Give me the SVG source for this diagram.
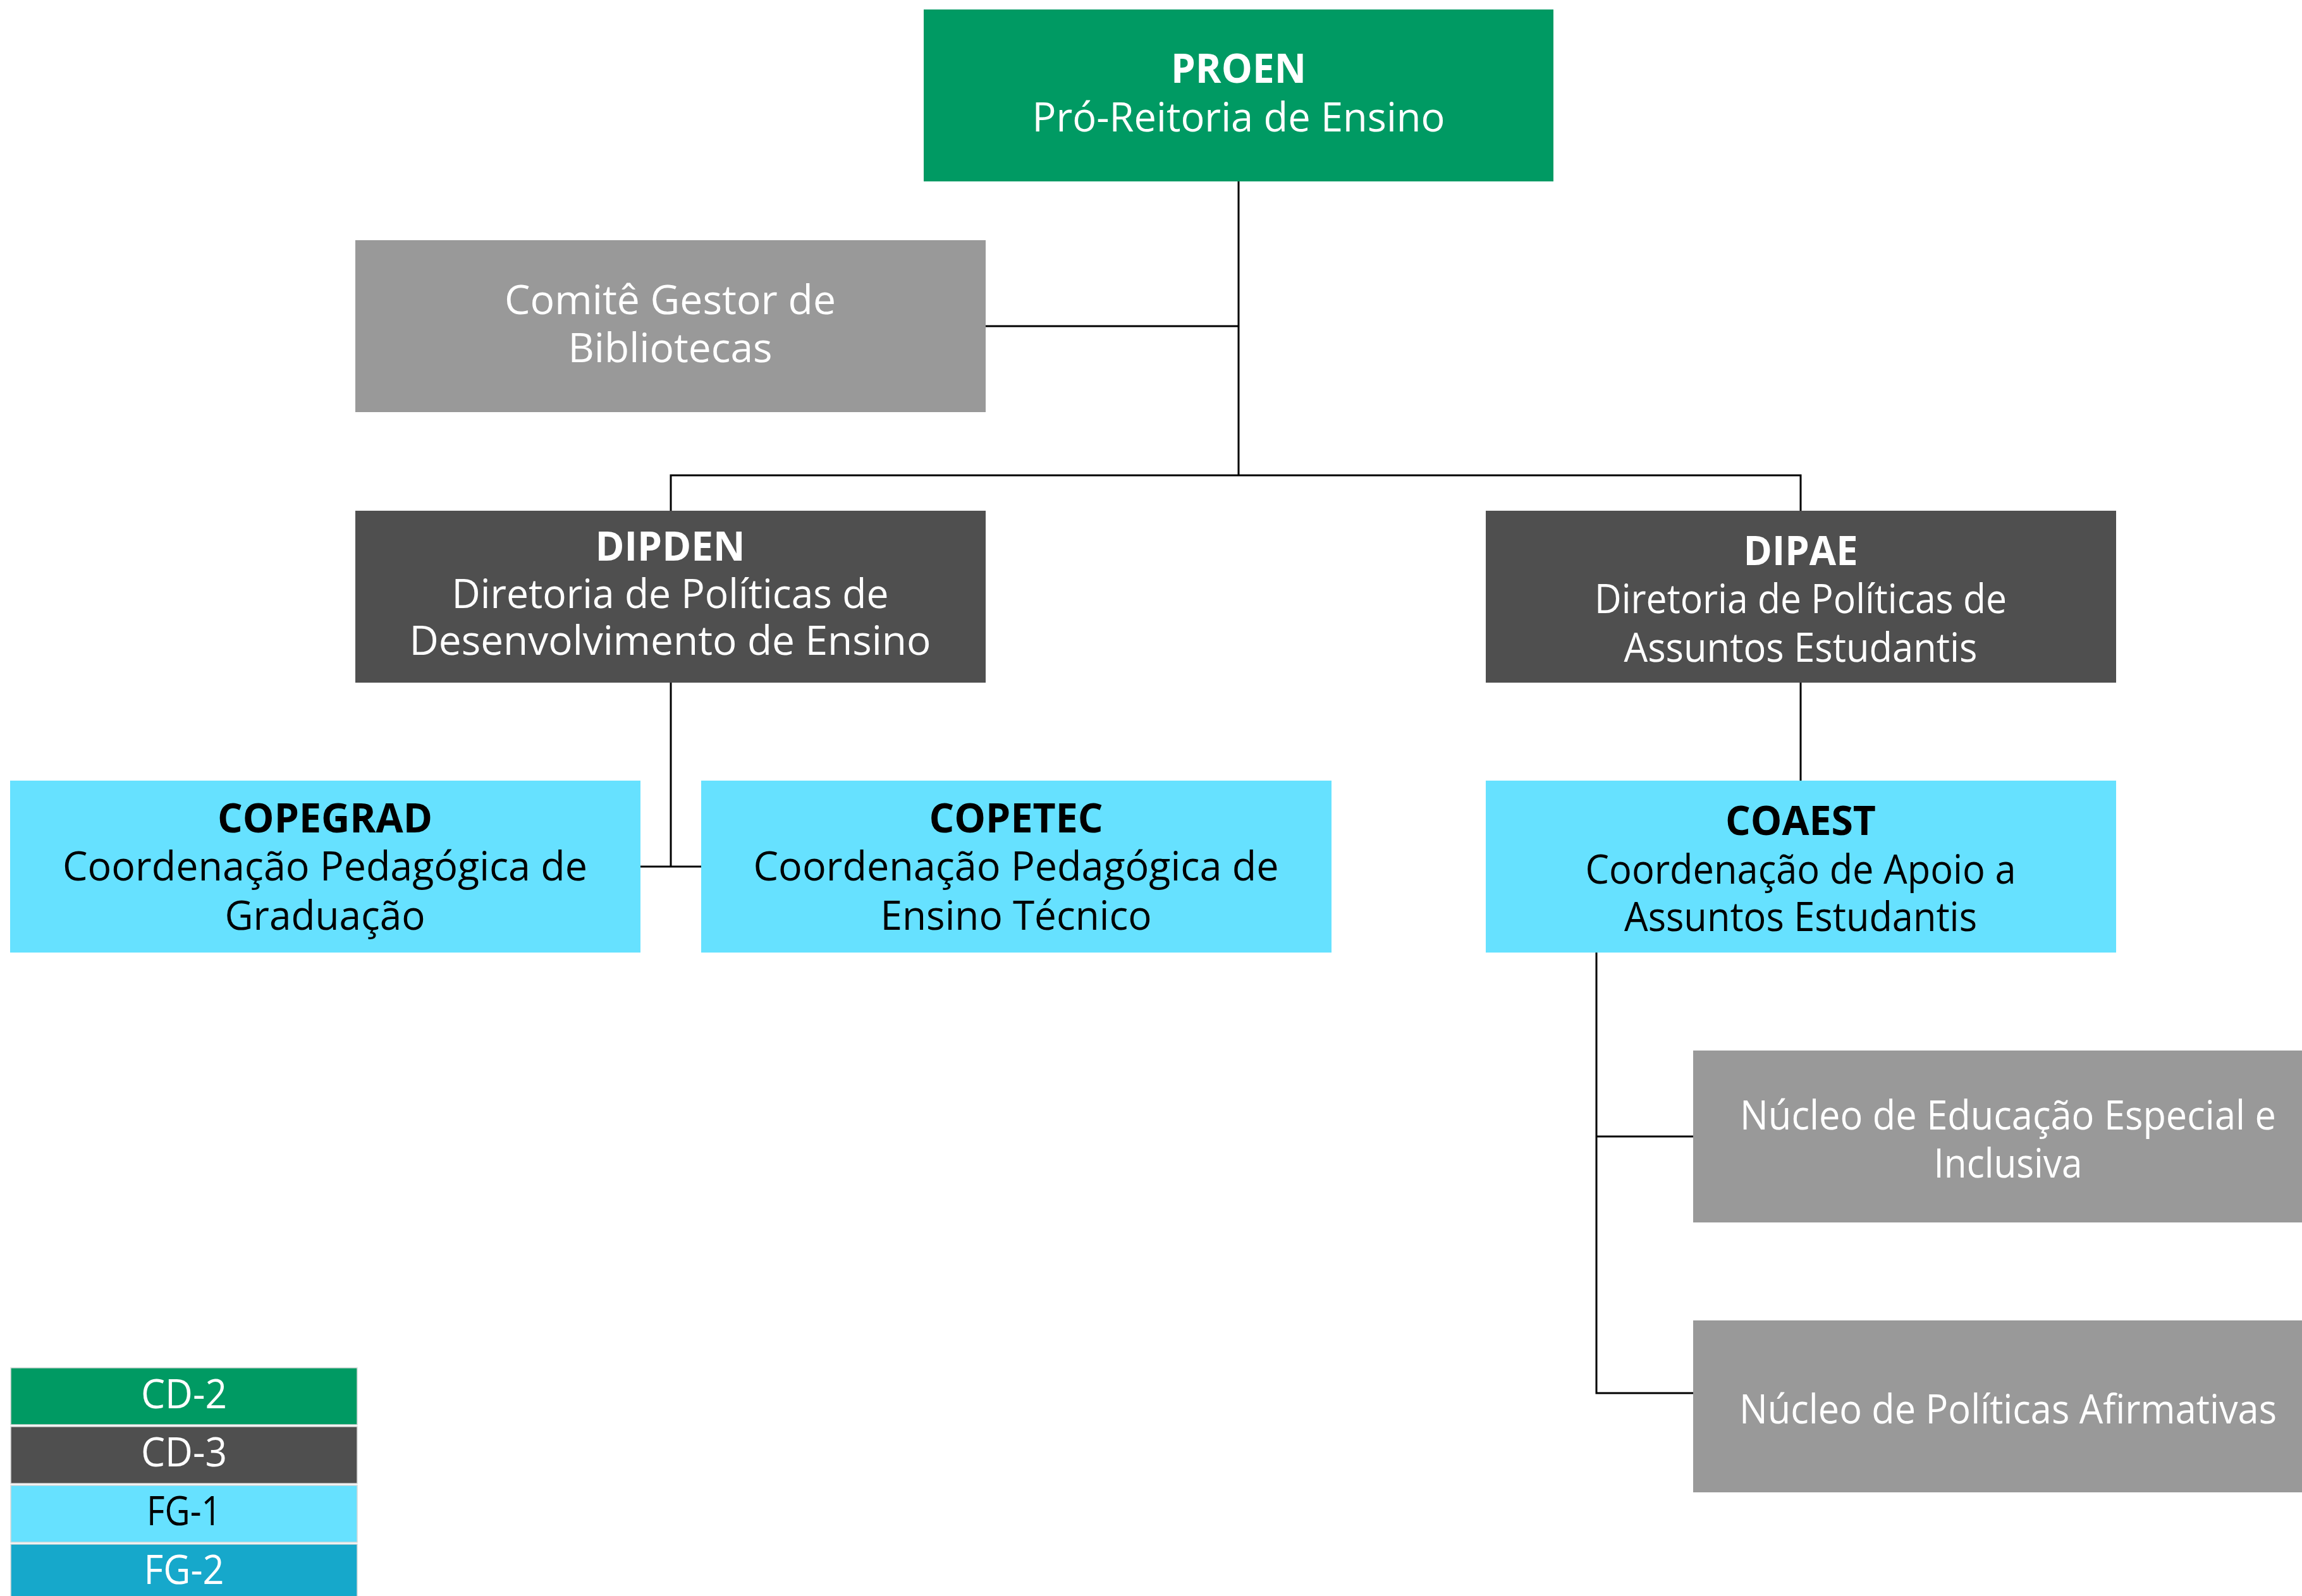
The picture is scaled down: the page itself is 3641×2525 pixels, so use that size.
<svg xmlns="http://www.w3.org/2000/svg" width="3641" height="2525" viewBox="0 0 3641 2525">
<style>
text{font-family:"Open Sans","Noto Sans","Liberation Sans",sans-serif;font-size:64px;text-anchor:middle}
.b{font-weight:bold}
.w{fill:#ffffff}
.k{fill:#000000}
.green{fill:#009A63}
.dark{fill:#4F4F4F}
.cyan{fill:#66E1FF}
.gray{fill:#999999}
.fg2{fill:#16A8CB}
.leg{stroke:#d9d9d9;stroke-width:1.5}
.con{stroke:#000000;stroke-width:3;fill:none}
</style>
<rect width="3641" height="2525" fill="#ffffff"/>
<g id="connectors">
<path class="con" d="M1959 287V752"/>
<path class="con" d="M1559 516H1959"/>
<path class="con" d="M1061 808V752H2848V808"/>
<path class="con" d="M1061 1080V1371"/>
<path class="con" d="M1013 1371H1109"/>
<path class="con" d="M2848 1080V1235"/>
<path class="con" d="M2525 1507V2204H2678"/>
<path class="con" d="M2525 1798H2678"/>
</g>
<g id="proen">
<rect class="green" x="1461" y="15" width="996" height="272"/>
<text class="w b" x="1959" y="131" textLength="214" lengthAdjust="spacingAndGlyphs">PROEN</text>
<text class="w" x="1959" y="208" textLength="653" lengthAdjust="spacingAndGlyphs">Pró-Reitoria de Ensino</text>
</g>
<g id="comite">
<rect class="gray" x="562" y="380" width="997" height="272"/>
<text class="w" x="1060" y="497" textLength="524" lengthAdjust="spacingAndGlyphs">Comitê Gestor de</text>
<text class="w" x="1060" y="573" textLength="323" lengthAdjust="spacingAndGlyphs">Bibliotecas</text>
</g>
<g id="dipden">
<rect class="dark" x="562" y="808" width="997" height="272"/>
<text class="w b" x="1060" y="887" textLength="237" lengthAdjust="spacingAndGlyphs">DIPDEN</text>
<text class="w" x="1060" y="962" textLength="691" lengthAdjust="spacingAndGlyphs">Diretoria de Políticas de</text>
<text class="w" x="1060" y="1036" textLength="825" lengthAdjust="spacingAndGlyphs">Desenvolvimento de Ensino</text>
</g>
<g id="dipae">
<rect class="dark" x="2350" y="808" width="997" height="272"/>
<text class="w b" x="2848" y="894" textLength="181" lengthAdjust="spacingAndGlyphs">DIPAE</text>
<text class="w" x="2848" y="970" textLength="652" lengthAdjust="spacingAndGlyphs">Diretoria de Políticas de</text>
<text class="w" x="2848" y="1047" textLength="559" lengthAdjust="spacingAndGlyphs">Assuntos Estudantis</text>
</g>
<g id="copegrad">
<rect class="cyan" x="16" y="1235" width="997" height="272"/>
<text class="k b" x="514" y="1317" textLength="340" lengthAdjust="spacingAndGlyphs">COPEGRAD</text>
<text class="k" x="514" y="1393" textLength="830" lengthAdjust="spacingAndGlyphs">Coordenação Pedagógica de</text>
<text class="k" x="514" y="1471" textLength="317" lengthAdjust="spacingAndGlyphs">Graduação</text>
</g>
<g id="copetec">
<rect class="cyan" x="1109" y="1235" width="997" height="272"/>
<text class="k b" x="1607" y="1317" textLength="275" lengthAdjust="spacingAndGlyphs">COPETEC</text>
<text class="k" x="1607" y="1393" textLength="831" lengthAdjust="spacingAndGlyphs">Coordenação Pedagógica de</text>
<text class="k" x="1607" y="1471" textLength="429" lengthAdjust="spacingAndGlyphs">Ensino Técnico</text>
</g>
<g id="coaest">
<rect class="cyan" x="2350" y="1235" width="997" height="272"/>
<text class="k b" x="2848" y="1321" textLength="238" lengthAdjust="spacingAndGlyphs">COAEST</text>
<text class="k" x="2848" y="1398" textLength="681" lengthAdjust="spacingAndGlyphs">Coordenação de Apoio a</text>
<text class="k" x="2848" y="1473" textLength="558" lengthAdjust="spacingAndGlyphs">Assuntos Estudantis</text>
</g>
<g id="nucleo-educacao">
<rect class="gray" x="2678" y="1662" width="997" height="272"/>
<text class="w" x="3176" y="1787" textLength="848" lengthAdjust="spacingAndGlyphs">Núcleo de Educação Especial e</text>
<text class="w" x="3176" y="1863" textLength="235" lengthAdjust="spacingAndGlyphs">Inclusiva</text>
</g>
<g id="nucleo-politicas">
<rect class="gray" x="2678" y="2089" width="997" height="272"/>
<text class="w" x="3176" y="2252" textLength="850" lengthAdjust="spacingAndGlyphs">Núcleo de Políticas Afirmativas</text>
</g>
<g id="legend">
<rect class="green leg" x="17" y="2164" width="548" height="90"/>
<text class="w" x="291" y="2228" textLength="136" lengthAdjust="spacingAndGlyphs">CD-2</text>
<rect class="dark leg" x="17" y="2257" width="548" height="90"/>
<text class="w" x="291" y="2320" textLength="136" lengthAdjust="spacingAndGlyphs">CD-3</text>
<rect class="cyan leg" x="17" y="2350" width="548" height="90"/>
<text class="k" x="291" y="2413" textLength="118" lengthAdjust="spacingAndGlyphs">FG-1</text>
<rect class="fg2 leg" x="17" y="2443" width="548" height="90"/>
<text class="w" x="291" y="2506" textLength="127" lengthAdjust="spacingAndGlyphs">FG-2</text>
</g>
</svg>
